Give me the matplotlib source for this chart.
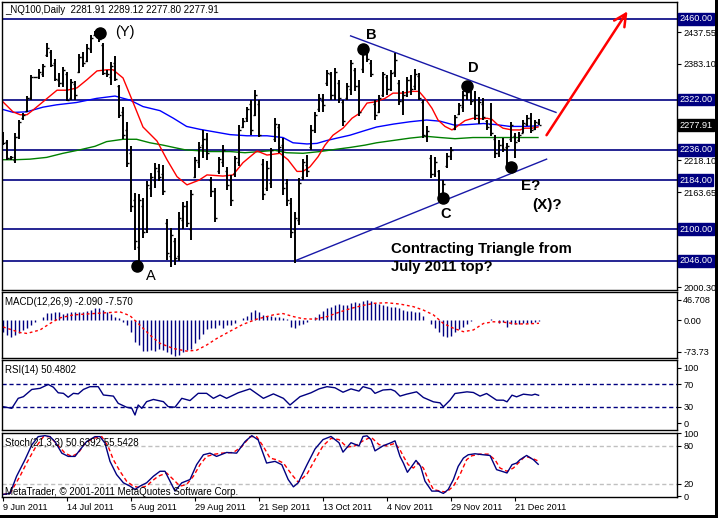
import numpy as np
import matplotlib
matplotlib.use("Agg")
import matplotlib.pyplot as plt
from matplotlib.patches import Rectangle
import matplotlib.transforms as mtransforms

plt.rcParams['font.family'] = ['Liberation Sans', 'DejaVu Sans']

# --- price bars (index 0 = 9 Jun 2011) ---
highs = [2267, 2253, 2226, 2264, 2287, 2299, 2328, 2364, 2361, 2374, 2383, 2418, 2406, 2391, 2367, 2377,
         2370, 2357, 2353, 2400, 2404, 2417, 2433, 2440, 2435, 2418, 2373, 2387, 2396, 2347, 2309, 2283,
         2242, 2162, 2161, 2153, 2182, 2196, 2213, 2212, 2210, 2118, 2102, 2085, 2129, 2147, 2148, 2168,
         2224, 2250, 2270, 2264, 2190, 2170, 2224, 2244, 2207, 2193, 2226, 2279, 2290, 2309, 2321, 2339,
         2321, 2220, 2216, 2239, 2290, 2281, 2256, 2186, 2153, 2130, 2187, 2220, 2227, 2279, 2300, 2332,
         2332, 2372, 2370, 2376, 2356, 2321, 2350, 2390, 2376, 2355, 2410, 2404, 2390, 2321, 2330, 2370,
         2364, 2373, 2401, 2356, 2336, 2361, 2364, 2374, 2367, 2321, 2276, 2227, 2224, 2202, 2185, 2230,
         2241, 2296, 2316, 2336, 2353, 2339, 2336, 2326, 2324, 2287, 2316, 2261, 2253, 2256, 2247, 2284,
         2264, 2267, 2287, 2296, 2299, 2287, 2289.12]
lows = [2244, 2219, 2219, 2214, 2254, 2287, 2300, 2321, 2359, 2357, 2361, 2394, 2378, 2353, 2344, 2344,
        2319, 2321, 2321, 2367, 2378, 2387, 2401, 2430, 2420, 2364, 2361, 2347, 2353, 2290, 2254, 2207,
        2130, 2065, 2045, 2085, 2093, 2156, 2170, 2182, 2159, 2048, 2036, 2039, 2045, 2100, 2104, 2082,
        2187, 2204, 2222, 2218, 2156, 2112, 2195, 2207, 2167, 2139, 2190, 2208, 2273, 2284, 2261, 2293,
        2258, 2150, 2165, 2170, 2250, 2230, 2159, 2139, 2085, 2042, 2108, 2184, 2190, 2236, 2264, 2301,
        2300, 2345, 2321, 2321, 2316, 2276, 2321, 2330, 2336, 2293, 2367, 2387, 2361, 2287, 2299, 2327,
        2330, 2336, 2361, 2313, 2296, 2327, 2330, 2339, 2321, 2256, 2250, 2187, 2190, 2153, 2150, 2204,
        2219, 2270, 2296, 2301, 2321, 2313, 2287, 2281, 2287, 2270, 2259, 2222, 2224, 2233, 2207, 2250,
        2222, 2250, 2264, 2276, 2264, 2270, 2277.80]
opens = [2262, 2250, 2222, 2218, 2258, 2290, 2302, 2324, 2360, 2360, 2365, 2398, 2404, 2385, 2356, 2350,
         2365, 2325, 2348, 2370, 2394, 2388, 2408, 2432, 2432, 2415, 2368, 2360, 2385, 2345, 2300, 2270,
         2230, 2150, 2070, 2140, 2100, 2170, 2185, 2200, 2195, 2110, 2055, 2080, 2055, 2115, 2140, 2100,
         2190, 2215, 2245, 2255, 2185, 2165, 2200, 2215, 2200, 2185, 2195, 2215, 2275, 2290, 2315, 2295,
         2315, 2212, 2170, 2180, 2255, 2275, 2245, 2180, 2145, 2100, 2115, 2190, 2210, 2240, 2270, 2305,
         2320, 2350, 2365, 2330, 2350, 2318, 2325, 2340, 2372, 2345, 2375, 2400, 2385, 2315, 2300, 2330,
         2360, 2340, 2370, 2350, 2320, 2330, 2355, 2345, 2362, 2318, 2260, 2222, 2195, 2200, 2160, 2208,
         2225, 2272, 2298, 2310, 2330, 2335, 2322, 2295, 2315, 2285, 2280, 2255, 2230, 2245, 2240, 2255,
         2260, 2252, 2265, 2280, 2290, 2272, 2281.91]
closes = [2248, 2222, 2224, 2258, 2283, 2295, 2325, 2360, 2360, 2370, 2380, 2410, 2382, 2358, 2350, 2372,
          2322, 2352, 2330, 2395, 2384, 2410, 2428, 2436, 2425, 2368, 2365, 2380, 2358, 2295, 2262, 2214,
          2140, 2080, 2150, 2095, 2175, 2190, 2205, 2190, 2165, 2060, 2090, 2050, 2120, 2140, 2110, 2160,
          2218, 2240, 2255, 2230, 2165, 2120, 2220, 2235, 2175, 2150, 2222, 2270, 2285, 2305, 2270, 2330,
          2262, 2160, 2205, 2235, 2280, 2240, 2170, 2150, 2095, 2120, 2180, 2215, 2200, 2270, 2295, 2325,
          2312, 2368, 2330, 2370, 2325, 2285, 2345, 2385, 2345, 2300, 2405, 2392, 2365, 2295, 2325, 2365,
          2340, 2368, 2390, 2320, 2330, 2355, 2340, 2365, 2325, 2262, 2268, 2195, 2215, 2160, 2178, 2225,
          2236, 2292, 2312, 2330, 2335, 2320, 2295, 2318, 2292, 2275, 2265, 2230, 2245, 2238, 2242, 2278,
          2250, 2262, 2282, 2290, 2270, 2283, 2277.91]

# --- moving averages (bar index, price) ---
ma_red_x = [0, 2.5, 4.3, 6, 7.5, 10.5, 13.5, 16, 18.5, 21, 23.5, 26, 27.5, 30, 31.75, 33, 35, 38.5, 41,
            43.5, 46, 49, 51, 55, 57.5, 60, 63.5, 66, 69.25, 71.25, 73.5, 75, 76.75, 78.75, 80.5, 82.5,
            85, 87.25, 89.25, 91, 93, 95.5, 97.5, 100, 102.25, 104, 105.5, 107.25, 108.75, 110.5,
            112.25, 113.5, 115.5, 117.5, 119.75, 121, 122.25, 123.5, 125, 127.25, 129.25, 130.5,
            132.25, 133.75]
ma_red_y = [2318, 2301, 2296, 2296, 2304, 2321, 2338, 2338, 2342, 2356, 2371, 2373, 2373, 2359, 2330,
            2309, 2275, 2251, 2219, 2190, 2176, 2184, 2193, 2191, 2193, 2214, 2234, 2227, 2230, 2219,
            2199, 2199, 2207, 2224, 2244, 2261, 2273, 2290, 2299, 2316, 2318, 2324, 2333, 2333, 2336,
            2336, 2324, 2307, 2287, 2276, 2270, 2276, 2286, 2290, 2289, 2290, 2288, 2280, 2273, 2270,
            2270, 2273, 2273, 2275]
ma_blue_x = [0, 2.6, 5.9, 10, 13.4, 18.4, 23.4, 28, 31.75, 35, 39.25, 42.6, 45.9, 49.25, 52.6, 56.75,
             61, 66, 70, 72.5, 76, 78.5, 81, 83.5, 86.75, 90.5, 93.4, 97.6, 101.75, 105.9, 109.25, 113,
             115.9, 120.1, 123.4, 126.75, 130.1, 133.8]
ma_blue_y = [2305, 2300, 2301, 2309, 2313, 2317, 2324, 2328, 2321, 2310, 2303, 2290, 2276, 2271, 2267,
             2262, 2260, 2260, 2257, 2248, 2246, 2247, 2252, 2256, 2261, 2269, 2275, 2280, 2284, 2287,
             2285, 2278, 2279, 2281, 2279, 2276, 2276, 2277]
ma_green_x = [0, 3, 6.75, 10.9, 15, 19.25, 23, 25.9, 30, 33.4, 36.75, 40, 43.4, 45.5, 51.75, 56.75, 60.5,
              68, 70.9, 75, 79.25, 83.4, 86.75, 90.5, 93.4, 97.6, 101.75, 105.9, 109.25, 113, 117.5,
              124.25, 133.75]
ma_green_y = [2219, 2219, 2220, 2223, 2230, 2236, 2242, 2250, 2254, 2254, 2248, 2244, 2239, 2236, 2233,
              2233, 2231, 2235, 2231, 2230, 2233, 2237, 2240, 2244, 2248, 2252, 2256, 2259, 2257, 2255,
              2257, 2257, 2257]

# --- support / resistance levels and wave marks ---
levels = [2460.00, 2322.00, 2236.00, 2184.00, 2100.00, 2046.00]
last_price = 2277.91
wave_names = ['(Y)', 'A', 'B', 'C', 'D', 'E?', '(X)?']
dots_x = [24.25, 33.5, 90, 110, 116, 127]
dots_y = [2436, 2037, 2409, 2154, 2345, 2207]
upper_line_x, upper_line_y = [86.9, 138.25], [2431, 2300]
lower_line_x, lower_line_y = [73, 135.9], [2046, 2220]
arrow_from, arrow_to = (135.5, 2257), (156.5, 2477)

# --- MACD(12,26,9) ---
macd = [-27, -35, -39, -35, -31, -23, -19, -12, -4, 0, 8, 16, 16, 18, 18, 13, 16, 18, 18, 18, 19, 21, 23,
        29, 29, 23, 18, 13, 8, 4, -4, -12, -27, -50, -58, -72, -72, -70, -72, -68, -70, -75, -78, -83, -80,
        -74, -70, -66, -54, -43, -33, -21, -19, -19, -12, -18, -12, -12, -8, 0, 5, 10, 19, 23, 19, 12, 10,
        10, 8, 8, 5, 2, -16, -18, -12, -10, -5, 0, 8, 14, 20, 27, 31, 35, 37, 35, 36, 40, 41, 39, 43, 46.7,
        44, 40, 37, 36, 33, 31, 31, 27, 23, 21, 21, 19, 18, 10, 0, -10, -19, -27, -37, -39, -37, -27, -21,
        -16, -9, -2, 0, 1, 1, 1, 2, 0, -8, -5, -16, -10, -9, -9, -8, -8, -8, -5, -2.09]
macd_sig_x = [0, 4.25, 6, 9.25, 11.75, 14.25, 17.6, 22.6, 29.25, 31.75, 34.25, 36.75, 39.25, 42.6, 45.9,
              48.4, 50.9, 53.4, 56.75, 60, 63.4, 67.6, 70, 72.6, 75, 78, 81, 84, 87, 90, 93, 96, 99.25,
              102.6, 105.1, 107.6, 110.1, 112.6, 115.1, 117.6, 120.1, 122.6, 125.1, 128.4, 130.9, 134]
macd_sig_y = [-16, -29, -31, -23, -8, 5, 12, 15, 19, 10, -12, -35, -54, -66, -72, -70, -58, -43, -26, -10,
              2, 12, 15, 8, 3, 2, 8, 18, 27, 34, 39, 40, 37, 31, 23, 12, -8, -19, -27, -23, -8, -4, -5,
              -9, -9, -7.57]

# --- RSI(14) ---
rsi_x = [0, 2.2, 3.8, 5.1, 7.2, 9.25, 11.3, 12.6, 13.8, 15.1, 16.3, 17.6, 18.8, 20.1, 21.75, 23.8, 25.1,
         27.6, 28.8, 30.9, 32.2, 33, 33.8, 34.7, 35.9, 37.6, 40.1, 41.3, 43, 44.7, 46.75, 48.8, 50.9, 52.6,
         54.25, 55.9, 58.8, 61.75, 65.1, 67.6, 70.1, 71.75, 74.25, 77, 79, 81, 83, 85, 87, 89, 90, 92, 93,
         95, 97, 98, 99.25, 100.9, 103.4, 105.1, 107.6, 109.25, 110.1, 111.75, 113, 116, 117.6, 119.25,
         120.9, 123.4, 125.1, 126, 127.25, 128.4, 130.1, 132.2, 133, 133.9]
rsi_y = [30, 27, 45, 48, 61, 63, 70, 65, 55, 54, 47, 54, 53, 61, 66, 66, 51, 49, 36, 29, 27, 15, 33, 27,
         39, 43, 39, 30, 29, 45, 41, 54, 54, 45, 51, 45, 55, 62, 45, 53, 45, 33, 48, 55, 62, 66, 64, 56,
         62, 58, 66, 62, 54, 60, 61, 58, 49, 52.5, 56.7, 46.5, 38.7, 36.9, 29.7, 41.7, 53.7, 56.7, 55.5,
         49, 53.7, 41.7, 41.7, 38.7, 50.7, 47.7, 52.5, 50.7, 52.5, 50.48]

# --- Stochastic(21,3,3) ---
stk_x = [0, 1.75, 3.4, 5.5, 7.2, 8.8, 10.5, 11.75, 13, 14.7, 16.3, 18, 19.25, 20.9, 23, 24.25, 25.5, 26.75,
         28.4, 30.1, 31.75, 33, 34.25, 35.9, 37.6, 39.25, 40.5, 41.75, 43, 44.7, 46.75, 48.4, 50.1, 51.75,
         53.4, 55.9, 58.4, 60.5, 62.2, 63.8, 65.9, 68, 69.7, 71.3, 72.6, 73.8, 76, 78, 80, 82, 84, 85,
         87, 89, 90, 91, 92, 93, 95, 97, 98, 99.25, 100.1, 101.1, 102.2, 103.25, 104.4, 105.5, 107.2,
         108.8, 110.1, 111.3, 112.6, 113.8, 115.1, 116.3, 118, 120.1, 121.75, 123.4, 124.7, 126, 127.25,
         128.4, 129.25, 130.9, 132.6, 133.8]
stk_y = [2.6, 4.2, 31.6, 57.9, 81.6, 94.7, 96.3, 94.7, 86.8, 68.4, 63.2, 63.2, 73.7, 86.8, 94.7, 94.7, 84.2,
         55.3, 34.2, 21.1, 15.8, 10.5, 15.8, 21.1, 31.6, 39.5, 39.5, 23.7, 7.9, 21.1, 26.3, 50, 65.8, 68.4,
         63.2, 69.5, 68.4, 86.8, 96.3, 89.5, 52.6, 55.3, 50, 26.3, 14.7, 21.1, 50, 75, 90, 95, 85, 70,
         85, 80, 95, 96, 90, 72, 80, 85, 88, 63.2, 52.6, 37.9, 47.4, 56.8, 47.4, 23.7, 7.9, 7.9, 4.2, 10.5,
         26.3, 47.4, 60.5, 65.8, 67.4, 65.8, 64.7, 42.1, 39.5, 36.8, 50, 52.6, 57.9, 64.7, 57.9, 50.64]
sig_x = [0, 1.75, 4.25, 5.9, 8, 10.1, 11.75, 13.4, 15.5, 17.2, 18.8, 20.5, 22.6, 24.7, 26.3, 27.6, 29.25,
         30.9, 32.6, 34.25, 35.9, 37.2, 38.8, 40.9, 42.6, 44.25, 45.9, 47.6, 49.25, 50.9, 53, 54.7, 57.6,
         59.7, 61.75, 63.4, 65.1, 66.75, 68.4, 70.1, 72.2, 73.8, 76, 78, 80, 82, 84, 86, 88, 90, 92, 94,
         96, 98, 99.25, 100.1, 101.3, 102.6, 103.8, 105.1, 106.3, 107.6, 109.25, 110.9, 112.6, 114.25,
         115.9, 117.2, 119.25, 121.3, 123, 124.25, 126, 127.6, 129.25, 130.5, 132.2, 133.9]
sig_y = [2.6, 4.2, 31.6, 52.6, 76.3, 94.7, 94.7, 83.2, 68.4, 63.2, 68.4, 84.2, 92.1, 94.7, 78.9, 57.9, 39.5,
         23.7, 15.8, 13.2, 15.8, 23.7, 31.6, 36.8, 26.3, 15.8, 18.4, 31.6, 50, 63.2, 66.8, 68.4, 69.5, 78.9,
         94.7, 94.7, 78.9, 60.5, 57.9, 52.6, 34.2, 22.1, 35, 58, 80, 92, 90, 78, 80, 88, 94, 82, 80, 84,
         73.7, 63.2, 50, 44.7, 52.6, 44.7, 26.3, 10.5, 7.9, 6.3, 15.8, 34.2, 57.9, 64.2, 66.8, 66.8, 57.9,
         44.7, 39.5, 44.7, 55.3, 63.2, 60.5, 55.54]

tick_idx = [0, 16, 32, 48, 64, 80, 96, 112, 128]
tick_txt = ['9 Jun 2011', '14 Jul 2011', '5 Aug 2011', '29 Aug 2011', '21 Sep 2011',
            '13 Oct 2011', '4 Nov 2011', '29 Nov 2011', '21 Dec 2011']

NAVY = '#000080'
FS = 6.6
W, H = 718, 518

fig = plt.figure(figsize=(W / 100, H / 100), dpi=100)
fig.patch.set_facecolor('white')


def box(top, bottom):
    return [2 / W, (H - bottom) / H, 675 / W, (bottom - top) / H]


ax = fig.add_axes(box(2, 290))
axm = fig.add_axes(box(292, 358), sharex=ax)
axr = fig.add_axes(box(360, 430), sharex=ax)
axs = fig.add_axes(box(433, 497), sharex=ax)

for a in (ax, axm, axr, axs):
    a.set_facecolor('white')
    for s in a.spines.values():
        s.set_color('black')
        s.set_linewidth(1)
    a.yaxis.tick_right()
    a.tick_params(axis='y', direction='out', length=3, width=0.8, labelsize=FS, pad=1.5, colors='black')
    a.tick_params(axis='x', bottom=False, labelbottom=False)

ax.set_xlim(-0.25, 168.5)
ax.set_ylim(1996, 2489)

# horizontal levels
for lv in levels:
    ax.axhline(lv, color=NAVY, lw=1.2, zorder=1)

# moving averages
ax.plot(ma_green_x, ma_green_y, color='#008000', lw=1, zorder=2)
ax.plot(ma_blue_x, ma_blue_y, color='#0000FF', lw=1, zorder=2)
ax.plot(ma_red_x, ma_red_y, color='#FF0000', lw=1, zorder=2)

# OHLC bars
idx = np.arange(len(highs))
ax.vlines(idx, lows, highs, color='black', lw=1.4, zorder=3)
ax.hlines(opens, idx - 0.45, idx, color='black', lw=1, zorder=3)
ax.hlines(closes, idx, idx + 0.45, color='black', lw=1, zorder=3)

# triangle lines
ax.plot(upper_line_x, upper_line_y, color='#1818A8', lw=1, zorder=2)
ax.plot(lower_line_x, lower_line_y, color='#1818A8', lw=1, zorder=2)

# red arrow
ax.annotate('', xy=arrow_to, xytext=arrow_from,
            arrowprops=dict(arrowstyle='->', color='red', lw=1.8, mutation_scale=22), zorder=5)

# wave dots and labels
ax.plot(dots_x, dots_y, 'o', color='black', ms=8, zorder=6)
lab_pos = [(30.5, 2437), (37, 2020), (92, 2433), (110.75, 2126), (117.5, 2376), (132, 2174), (136, 2142)]
for name, (lx, ly) in zip(wave_names, lab_pos):
    bold = name in ('B', 'C', 'D', 'E?', '(X)?')
    ax.text(lx, ly, name, fontsize=11 if '?' in name else 10.5,
            fontweight='bold' if bold else 'normal',
            ha='center', va='center', color='black', zorder=6)
ax.text(97, 2067, 'Contracting Triangle from', fontsize=10.7, fontweight='bold', ha='left', va='center')
ax.text(97, 2035, 'July 2011 top?', fontsize=10.7, fontweight='bold', ha='left', va='center')

# right axis (labels under the level boxes are left blank)
yt = [2437.55, 2383.10, 2328.65, 2274.20, 2218.10, 2163.65, 2109.20, 2054.75, 2000.30]
hidden = [2328.65, 2274.20, 2109.20, 2054.75]
ax.set_yticks(yt)
ax.set_yticklabels(['' if v in hidden else '%.2f' % v for v in yt])
tr = mtransforms.blended_transform_factory(ax.transAxes, ax.transData)
for lv in levels:
    ax.text(1.003, lv, '%.2f' % lv, transform=tr, fontsize=FS, color='white', ha='left', va='center',
            clip_on=False, zorder=10,
            bbox=dict(boxstyle='square,pad=0.15', fc=NAVY, ec=NAVY))
ax.text(1.003, last_price, '%.2f' % last_price, transform=tr, fontsize=FS, color='white', ha='left',
        va='center', clip_on=False, zorder=10,
        bbox=dict(boxstyle='square,pad=0.15', fc='black', ec='black'))

ax.text(0.005, 0.972, '_NQ100,Daily  2281.91 2289.12 2277.80 2277.91', transform=ax.transAxes,
        fontsize=FS + 0.4, va='center', ha='left')

# MACD panel
axm.set_ylim(-88, 65)
axm.vlines(idx, 0, macd, color=NAVY, lw=1)
axm.plot(macd_sig_x, macd_sig_y, color='red', lw=1, ls=(0, (2, 2)))
axm.set_yticks([46.708, 0, -73.73])
axm.set_yticklabels(['46.708', '0.00', '-73.73'])
axm.text(0.005, 0.85, 'MACD(12,26,9) -2.090 -7.570', transform=axm.transAxes, fontsize=FS + 0.4,
         va='center')

# RSI panel
axr.set_ylim(-12, 114)
for lv in (70, 30):
    axr.axhline(lv, color=NAVY, lw=1, ls=(0, (3, 2)))
axr.plot(rsi_x, rsi_y, color=NAVY, lw=1)
axr.set_yticks([100, 70, 30, 0])
axr.set_yticklabels(['100', '70', '30', '0'])
axr.text(0.005, 0.857, 'RSI(14) 50.4802', transform=axr.transAxes, fontsize=FS + 0.4, va='center')

# Stochastic panel
axs.set_ylim(-1.5, 100.5)
for lv in (80, 20):
    axs.axhline(lv, color='#C0C0C0', lw=1, ls=(0, (3, 2)))
axs.plot(sig_x, sig_y, color='red', lw=1, ls=(0, (3, 2)))
axs.plot(stk_x, stk_y, color=NAVY, lw=1)
axs.set_yticks([100, 80, 20, 0])
axs.set_yticklabels(['100', '80', '20', '0'])
axs.text(0.005, 0.84, 'Stoch(21,3,3) 50.6392 55.5428', transform=axs.transAxes, fontsize=FS + 0.4,
         va='center')
axs.text(0.005, 0.08, 'MetaTrader, © 2001-2011 MetaQuotes Software Corp.', transform=axs.transAxes,
         fontsize=FS + 0.4, va='center')

# date axis
axs.tick_params(axis='x', bottom=True, labelbottom=True, direction='out', length=3, width=0.8,
                labelsize=FS, pad=1)
axs.set_xticks(tick_idx)
axs.set_xticklabels(tick_txt, ha='left')

# window shadow on right and bottom
fig.patches.append(Rectangle((715 / W, 0), 3 / W, 1, transform=fig.transFigure, fc='black', ec='none'))
fig.patches.append(Rectangle((0, 0), 1, 3 / H, transform=fig.transFigure, fc='black', ec='none'))

fig.savefig('out.png', dpi=100)
